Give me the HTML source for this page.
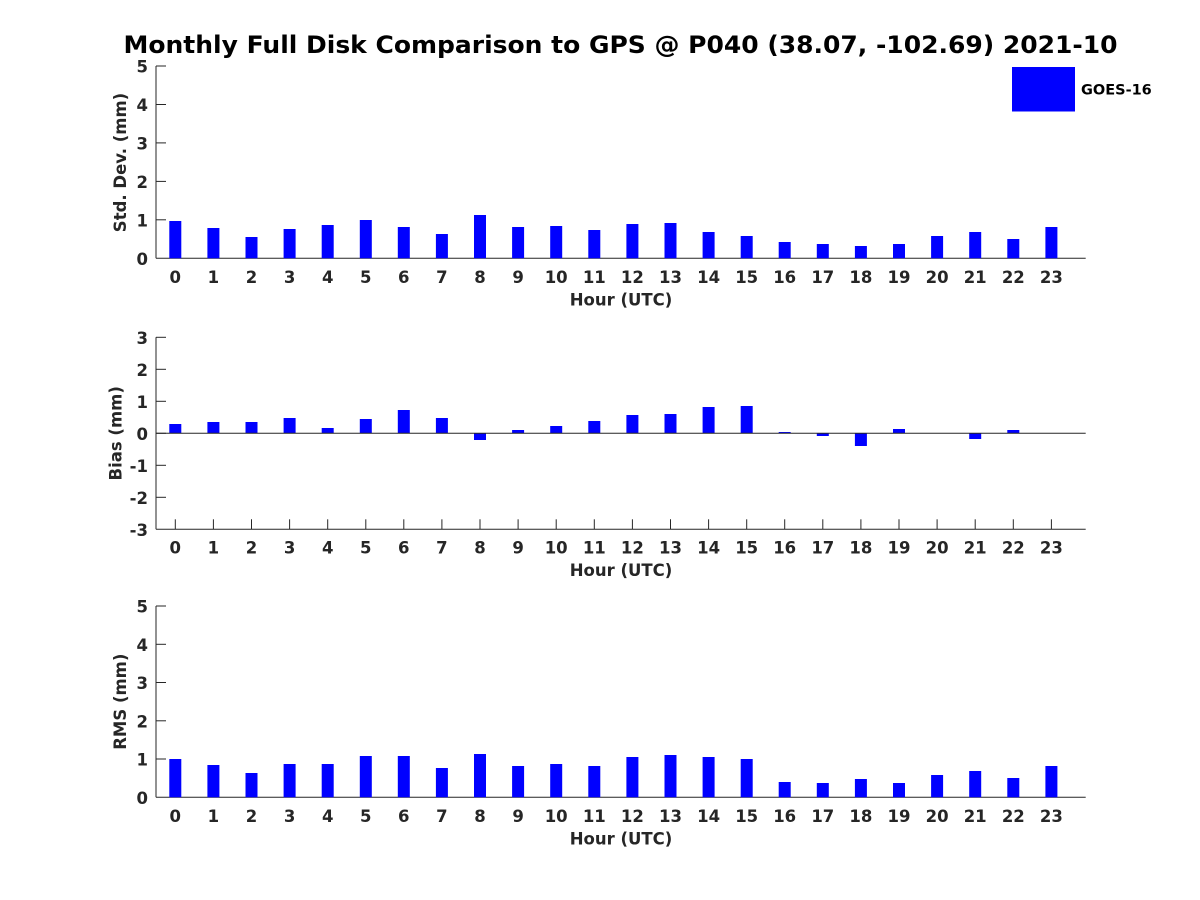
<!DOCTYPE html>
<html>
<head>
<meta charset="utf-8">
<style>
html,body{margin:0;padding:0;background:#fff;}
svg{display:block;}
text{font-family:"DejaVu Sans","Liberation Sans",sans-serif;font-weight:bold;}
.tk{font-size:16.5px;fill:#262626;}
.lb{font-size:16.5px;fill:#262626;}
</style>
</head>
<body>
<svg width="1200" height="900" viewBox="0 0 1200 900" xmlns="http://www.w3.org/2000/svg">
<rect x="0" y="0" width="1200" height="900" fill="#fff"/>

<!-- Title -->
<text x="620.5" y="53" text-anchor="middle" style="font-size:24px;fill:#000" textLength="994" lengthAdjust="spacingAndGlyphs">Monthly Full Disk Comparison to GPS @ P040 (38.07, -102.69) 2021-10</text>

<!-- ============ TOP PANEL ============ -->
<g stroke="#262626" stroke-width="1" fill="none">
  <line x1="156" y1="66" x2="156" y2="258.3"/>
  <line x1="156" y1="258.3" x2="1085.7" y2="258.3"/>
  <line x1="156" y1="66" x2="166" y2="66"/>
  <line x1="156" y1="104.5" x2="166" y2="104.5"/>
  <line x1="156" y1="142.9" x2="166" y2="142.9"/>
  <line x1="156" y1="181.4" x2="166" y2="181.4"/>
  <line x1="156" y1="219.8" x2="166" y2="219.8"/>
</g>
<g fill="#0000ff">
  <rect x="169.3" y="221.0" width="12" height="37.3"/>
  <rect x="207.4" y="228.0" width="12" height="30.3"/>
  <rect x="245.5" y="237.0" width="12" height="21.3"/>
  <rect x="283.6" y="229.0" width="12" height="29.3"/>
  <rect x="321.7" y="225.0" width="12" height="33.3"/>
  <rect x="359.8" y="220.0" width="12" height="38.3"/>
  <rect x="397.8" y="227.0" width="12" height="31.3"/>
  <rect x="435.9" y="234.0" width="12" height="24.3"/>
  <rect x="474.0" y="215.0" width="12" height="43.3"/>
  <rect x="512.1" y="227.0" width="12" height="31.3"/>
  <rect x="550.2" y="226.0" width="12" height="32.3"/>
  <rect x="588.3" y="230.0" width="12" height="28.3"/>
  <rect x="626.4" y="224.0" width="12" height="34.3"/>
  <rect x="664.5" y="223.0" width="12" height="35.3"/>
  <rect x="702.6" y="232.0" width="12" height="26.3"/>
  <rect x="740.7" y="236.0" width="12" height="22.3"/>
  <rect x="778.7" y="242.0" width="12" height="16.3"/>
  <rect x="816.8" y="244.0" width="12" height="14.3"/>
  <rect x="854.9" y="246.0" width="12" height="12.3"/>
  <rect x="893.0" y="244.0" width="12" height="14.3"/>
  <rect x="931.1" y="236.0" width="12" height="22.3"/>
  <rect x="969.2" y="232.0" width="12" height="26.3"/>
  <rect x="1007.3" y="239.0" width="12" height="19.3"/>
  <rect x="1045.4" y="227.0" width="12" height="31.3"/>
</g>
<g class="tk" text-anchor="end">
  <text x="148" y="264.8">0</text>
  <text x="148" y="226.3">1</text>
  <text x="148" y="187.9">2</text>
  <text x="148" y="149.4">3</text>
  <text x="148" y="111">4</text>
  <text x="148" y="72.5">5</text>
</g>
<g class="tk" text-anchor="middle">
  <text x="175.3" y="283">0</text><text x="213.4" y="283">1</text><text x="251.5" y="283">2</text><text x="289.6" y="283">3</text>
  <text x="327.7" y="283">4</text><text x="365.8" y="283">5</text><text x="403.8" y="283">6</text><text x="441.9" y="283">7</text>
  <text x="480.0" y="283">8</text><text x="518.1" y="283">9</text><text x="556.2" y="283">10</text><text x="594.3" y="283">11</text>
  <text x="632.4" y="283">12</text><text x="670.5" y="283">13</text><text x="708.6" y="283">14</text><text x="746.7" y="283">15</text>
  <text x="784.7" y="283">16</text><text x="822.8" y="283">17</text><text x="860.9" y="283">18</text><text x="899.0" y="283">19</text>
  <text x="937.1" y="283">20</text><text x="975.2" y="283">21</text><text x="1013.3" y="283">22</text><text x="1051.4" y="283">23</text>
</g>
<text class="lb" x="621" y="305.5" text-anchor="middle">Hour (UTC)</text>
<text class="lb" transform="translate(126,162.5) rotate(-90)" text-anchor="middle">Std. Dev. (mm)</text>

<!-- Legend -->
<rect x="1012" y="67" width="63" height="44.5" fill="#0000ff"/>
<text x="1081" y="94.5" style="font-size:14.5px;fill:#000">GOES-16</text>

<!-- ============ MIDDLE PANEL ============ -->
<g stroke="#262626" stroke-width="1" fill="none">
  <line x1="156" y1="337.3" x2="156" y2="529.3"/>
  <line x1="156" y1="529.3" x2="1085.7" y2="529.3"/>
  <line x1="156" y1="337.3" x2="166" y2="337.3"/>
  <line x1="156" y1="369.3" x2="166" y2="369.3"/>
  <line x1="156" y1="401.3" x2="166" y2="401.3"/>
  <line x1="156" y1="433.3" x2="166" y2="433.3"/>
  <line x1="156" y1="465.3" x2="166" y2="465.3"/>
  <line x1="156" y1="497.3" x2="166" y2="497.3"/>
  <line x1="175.3" y1="529.3" x2="175.3" y2="519.3"/><line x1="213.4" y1="529.3" x2="213.4" y2="519.3"/>
  <line x1="251.5" y1="529.3" x2="251.5" y2="519.3"/><line x1="289.6" y1="529.3" x2="289.6" y2="519.3"/>
  <line x1="327.7" y1="529.3" x2="327.7" y2="519.3"/><line x1="365.8" y1="529.3" x2="365.8" y2="519.3"/>
  <line x1="403.8" y1="529.3" x2="403.8" y2="519.3"/><line x1="441.9" y1="529.3" x2="441.9" y2="519.3"/>
  <line x1="480.0" y1="529.3" x2="480.0" y2="519.3"/><line x1="518.1" y1="529.3" x2="518.1" y2="519.3"/>
  <line x1="556.2" y1="529.3" x2="556.2" y2="519.3"/><line x1="594.3" y1="529.3" x2="594.3" y2="519.3"/>
  <line x1="632.4" y1="529.3" x2="632.4" y2="519.3"/><line x1="670.5" y1="529.3" x2="670.5" y2="519.3"/>
  <line x1="708.6" y1="529.3" x2="708.6" y2="519.3"/><line x1="746.7" y1="529.3" x2="746.7" y2="519.3"/>
  <line x1="784.7" y1="529.3" x2="784.7" y2="519.3"/><line x1="822.8" y1="529.3" x2="822.8" y2="519.3"/>
  <line x1="860.9" y1="529.3" x2="860.9" y2="519.3"/><line x1="899.0" y1="529.3" x2="899.0" y2="519.3"/>
  <line x1="937.1" y1="529.3" x2="937.1" y2="519.3"/><line x1="975.2" y1="529.3" x2="975.2" y2="519.3"/>
  <line x1="1013.3" y1="529.3" x2="1013.3" y2="519.3"/><line x1="1051.4" y1="529.3" x2="1051.4" y2="519.3"/>
</g>
<g fill="#0000ff">
  <rect x="169.3" y="424.0" width="12" height="9.3"/>
  <rect x="207.4" y="422.0" width="12" height="11.3"/>
  <rect x="245.5" y="422.0" width="12" height="11.3"/>
  <rect x="283.6" y="418.0" width="12" height="15.3"/>
  <rect x="321.7" y="428.0" width="12" height="5.3"/>
  <rect x="359.8" y="419.0" width="12" height="14.3"/>
  <rect x="397.8" y="410.0" width="12" height="23.3"/>
  <rect x="435.9" y="418.0" width="12" height="15.3"/>
  <rect x="474.0" y="433.3" width="12" height="6.7"/>
  <rect x="512.1" y="430.0" width="12" height="3.3"/>
  <rect x="550.2" y="426.0" width="12" height="7.3"/>
  <rect x="588.3" y="421.0" width="12" height="12.3"/>
  <rect x="626.4" y="415.0" width="12" height="18.3"/>
  <rect x="664.5" y="414.0" width="12" height="19.3"/>
  <rect x="702.6" y="407.0" width="12" height="26.3"/>
  <rect x="740.7" y="406.0" width="12" height="27.3"/>
  <rect x="778.7" y="432.0" width="12" height="1.3"/>
  <rect x="816.8" y="433.3" width="12" height="2.7"/>
  <rect x="854.9" y="433.3" width="12" height="12.7"/>
  <rect x="893.0" y="429.0" width="12" height="4.3"/>
  <rect x="969.2" y="433.3" width="12" height="5.7"/>
  <rect x="1007.3" y="430.0" width="12" height="3.3"/>
  <rect x="1045.4" y="433.0" width="12" height="0.3"/>
</g>
<line x1="156" y1="433.3" x2="1085.7" y2="433.3" stroke="#262626" stroke-width="1"/>
<g class="tk" text-anchor="end">
  <text x="148" y="343.8">3</text>
  <text x="148" y="375.8">2</text>
  <text x="148" y="407.8">1</text>
  <text x="148" y="439.8">0</text>
  <text x="148" y="471.8">-1</text>
  <text x="148" y="503.8">-2</text>
  <text x="148" y="535.8">-3</text>
</g>
<g class="tk" text-anchor="middle">
  <text x="175.3" y="553.5">0</text><text x="213.4" y="553.5">1</text><text x="251.5" y="553.5">2</text><text x="289.6" y="553.5">3</text>
  <text x="327.7" y="553.5">4</text><text x="365.8" y="553.5">5</text><text x="403.8" y="553.5">6</text><text x="441.9" y="553.5">7</text>
  <text x="480.0" y="553.5">8</text><text x="518.1" y="553.5">9</text><text x="556.2" y="553.5">10</text><text x="594.3" y="553.5">11</text>
  <text x="632.4" y="553.5">12</text><text x="670.5" y="553.5">13</text><text x="708.6" y="553.5">14</text><text x="746.7" y="553.5">15</text>
  <text x="784.7" y="553.5">16</text><text x="822.8" y="553.5">17</text><text x="860.9" y="553.5">18</text><text x="899.0" y="553.5">19</text>
  <text x="937.1" y="553.5">20</text><text x="975.2" y="553.5">21</text><text x="1013.3" y="553.5">22</text><text x="1051.4" y="553.5">23</text>
</g>
<text class="lb" x="621" y="576" text-anchor="middle">Hour (UTC)</text>
<text class="lb" transform="translate(121.5,433.3) rotate(-90)" text-anchor="middle">Bias (mm)</text>

<!-- ============ BOTTOM PANEL ============ -->
<g stroke="#262626" stroke-width="1" fill="none">
  <line x1="156" y1="606" x2="156" y2="797.3"/>
  <line x1="156" y1="797.3" x2="1085.7" y2="797.3"/>
  <line x1="156" y1="606" x2="166" y2="606"/>
  <line x1="156" y1="644.3" x2="166" y2="644.3"/>
  <line x1="156" y1="682.5" x2="166" y2="682.5"/>
  <line x1="156" y1="720.8" x2="166" y2="720.8"/>
  <line x1="156" y1="759" x2="166" y2="759"/>
</g>
<g fill="#0000ff">
  <rect x="169.3" y="759.0" width="12" height="38.3"/>
  <rect x="207.4" y="765.0" width="12" height="32.3"/>
  <rect x="245.5" y="773.0" width="12" height="24.3"/>
  <rect x="283.6" y="764.0" width="12" height="33.3"/>
  <rect x="321.7" y="764.0" width="12" height="33.3"/>
  <rect x="359.8" y="756.0" width="12" height="41.3"/>
  <rect x="397.8" y="756.0" width="12" height="41.3"/>
  <rect x="435.9" y="768.0" width="12" height="29.3"/>
  <rect x="474.0" y="754.0" width="12" height="43.3"/>
  <rect x="512.1" y="766.0" width="12" height="31.3"/>
  <rect x="550.2" y="764.0" width="12" height="33.3"/>
  <rect x="588.3" y="766.0" width="12" height="31.3"/>
  <rect x="626.4" y="757.0" width="12" height="40.3"/>
  <rect x="664.5" y="755.0" width="12" height="42.3"/>
  <rect x="702.6" y="757.0" width="12" height="40.3"/>
  <rect x="740.7" y="759.0" width="12" height="38.3"/>
  <rect x="778.7" y="782.0" width="12" height="15.3"/>
  <rect x="816.8" y="783.0" width="12" height="14.3"/>
  <rect x="854.9" y="779.0" width="12" height="18.3"/>
  <rect x="893.0" y="783.0" width="12" height="14.3"/>
  <rect x="931.1" y="775.0" width="12" height="22.3"/>
  <rect x="969.2" y="771.0" width="12" height="26.3"/>
  <rect x="1007.3" y="778.0" width="12" height="19.3"/>
  <rect x="1045.4" y="766.0" width="12" height="31.3"/>
</g>
<g class="tk" text-anchor="end">
  <text x="148" y="803.8">0</text>
  <text x="148" y="765.5">1</text>
  <text x="148" y="727.3">2</text>
  <text x="148" y="689">3</text>
  <text x="148" y="650.8">4</text>
  <text x="148" y="612.5">5</text>
</g>
<g class="tk" text-anchor="middle">
  <text x="175.3" y="822">0</text><text x="213.4" y="822">1</text><text x="251.5" y="822">2</text><text x="289.6" y="822">3</text>
  <text x="327.7" y="822">4</text><text x="365.8" y="822">5</text><text x="403.8" y="822">6</text><text x="441.9" y="822">7</text>
  <text x="480.0" y="822">8</text><text x="518.1" y="822">9</text><text x="556.2" y="822">10</text><text x="594.3" y="822">11</text>
  <text x="632.4" y="822">12</text><text x="670.5" y="822">13</text><text x="708.6" y="822">14</text><text x="746.7" y="822">15</text>
  <text x="784.7" y="822">16</text><text x="822.8" y="822">17</text><text x="860.9" y="822">18</text><text x="899.0" y="822">19</text>
  <text x="937.1" y="822">20</text><text x="975.2" y="822">21</text><text x="1013.3" y="822">22</text><text x="1051.4" y="822">23</text>
</g>
<text class="lb" x="621" y="844.5" text-anchor="middle">Hour (UTC)</text>
<text class="lb" transform="translate(126,701.7) rotate(-90)" text-anchor="middle">RMS (mm)</text>
</svg>
</body>
</html>
